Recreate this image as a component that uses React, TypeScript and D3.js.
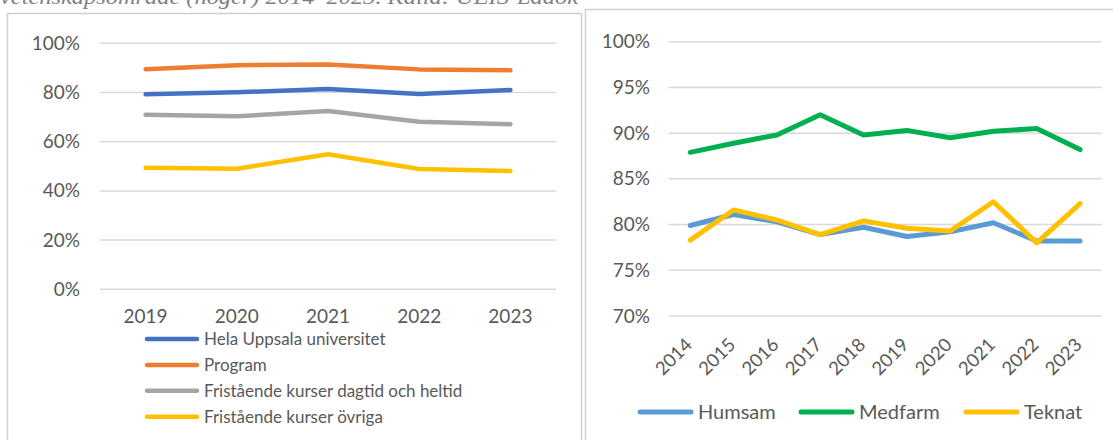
import * as d3 from "d3"

// vänster diagram: hela UU och utbildningstyp
const yearsLeft = ["2019", "2020", "2021", "2022", "2023"]
const helaUU = [0.793, 0.801, 0.814, 0.794, 0.81]
const program = [0.895, 0.911, 0.914, 0.894, 0.89]
const dagtid = [0.71, 0.703, 0.725, 0.681, 0.671]
const ovriga = [0.494, 0.49, 0.549, 0.489, 0.481]
const leftTicks = [0, 0.2, 0.4, 0.6, 0.8, 1.0]

// höger diagram: vetenskapsområden
const yearsRight = ["2014", "2015", "2016", "2017", "2018", "2019", "2020", "2021", "2022", "2023"]
const humsam = [0.799, 0.811, 0.803, 0.789, 0.797, 0.787, 0.792, 0.802, 0.782, 0.782]
const medfarm = [0.879, 0.889, 0.898, 0.92, 0.898, 0.903, 0.895, 0.902, 0.905, 0.882]
const teknat = [0.783, 0.816, 0.805, 0.789, 0.804, 0.796, 0.793, 0.825, 0.78, 0.823]
const rightTicks = [0.7, 0.75, 0.8, 0.85, 0.9, 0.95, 1.0]

const leftSeries = [
  { name: "Hela Uppsala universitet", values: helaUU, color: "#4472C4" },
  { name: "Program", values: program, color: "#ED7D31" },
  { name: "Fristående kurser dagtid och heltid", values: dagtid, color: "#A5A5A5" },
  { name: "Fristående kurser övriga", values: ovriga, color: "#FFC000" },
]

const rightSeries = [
  { name: "Humsam", values: humsam, color: "#5B9BD5" },
  { name: "Medfarm", values: medfarm, color: "#00B050" },
  { name: "Teknat", values: teknat, color: "#FFC000" },
]

const FONT = "Lato, 'Open Sans', sans-serif"
const TXT = "#595959"
const GRID = "#d9d9d9"

function LeftChart() {
  const x = d3.scaleBand<string>().domain(yearsLeft).range([100, 556])
  const y = d3.scaleLinear().domain([0, 1]).range([289.3, 43.3])
  const fmt = d3.format(".0%")
  const line = d3
    .line<number>()
    .x((_, i) => (x(yearsLeft[i]) ?? 0) + x.bandwidth() / 2)
    .y((d) => y(d))

  return (
    <g>
      <rect x={7.5} y={13.5} width={574} height={440} fill="#fff" stroke="#d0d0d0" strokeWidth={1.5} />
      {leftTicks.map((t) => (
        <g key={t}>
          <line x1={100} x2={556} y1={y(t)} y2={y(t)} stroke={GRID} strokeWidth={1.5} />
          <text x={80} y={y(t) + 6.5} textAnchor="end" fontSize={19} fill={TXT} fontFamily={FONT}>
            {fmt(t)}
          </text>
        </g>
      ))}
      {yearsLeft.map((yr) => (
        <text key={yr} x={(x(yr) ?? 0) + x.bandwidth() / 2} y={323} textAnchor="middle" fontSize={19} fill={TXT} fontFamily={FONT}>
          {yr}
        </text>
      ))}
      {leftSeries.map((s) => (
        <path key={s.name} d={line(s.values) ?? ""} fill="none" stroke={s.color} strokeWidth={4.5} strokeLinecap="round" strokeLinejoin="round" />
      ))}
      {leftSeries.map((s, i) => (
        <g key={s.name} transform={`translate(0,${339 + i * 25.9})`}>
          <line x1={147} x2={197} y1={0} y2={0} stroke={s.color} strokeWidth={4.5} strokeLinecap="round" />
          <text x={204} y={6} fontSize={17} fill={TXT} fontFamily={FONT}>
            {s.name}
          </text>
        </g>
      ))}
    </g>
  )
}

function RightChart() {
  const x = d3.scaleBand<string>().domain(yearsRight).range([668.6, 1101.7])
  const y = d3.scaleLinear().domain([0.7, 1.0]).range([316, 41.7])
  const fmt = d3.format(".0%")
  const line = d3
    .line<number>()
    .x((_, i) => (x(yearsRight[i]) ?? 0) + x.bandwidth() / 2)
    .y((d) => y(d))
  const legendX = [638, 799, 964]

  return (
    <g>
      <rect x={585.5} y={9.5} width={540} height={440} fill="#fff" stroke="#d0d0d0" strokeWidth={1.5} />
      {rightTicks.map((t) => (
        <g key={t}>
          <line x1={668.6} x2={1101.7} y1={y(t)} y2={y(t)} stroke={GRID} strokeWidth={1.5} />
          <text x={650} y={y(t) + 6.5} textAnchor="end" fontSize={19} fill={TXT} fontFamily={FONT}>
            {fmt(t)}
          </text>
        </g>
      ))}
      {yearsRight.map((yr) => {
        const cx = (x(yr) ?? 0) + x.bandwidth() / 2
        return (
          <text key={yr} transform={`translate(${cx + 3},${346}) rotate(-45)`} textAnchor="end" fontSize={18.5} fill={TXT} fontFamily={FONT}>
            {yr}
          </text>
        )
      })}
      {rightSeries.map((s) => (
        <path key={s.name} d={line(s.values) ?? ""} fill="none" stroke={s.color} strokeWidth={5} strokeLinecap="round" strokeLinejoin="round" />
      ))}
      {rightSeries.map((s, i) => (
        <g key={s.name} transform={`translate(${legendX[i]},412)`}>
          <line x1={2} x2={53} y1={0} y2={0} stroke={s.color} strokeWidth={5} strokeLinecap="round" />
          <text x={60} y={7} fontSize={20} fill={TXT} fontFamily={FONT}>
            {s.name}
          </text>
        </g>
      ))}
    </g>
  )
}

export default function App() {
  return (
    <svg width={1113} height={440} style={{ position: "absolute", left: 0, top: 0, background: "#fff" }}>
      <text x={0} y={4} fontSize={21} fontStyle="italic" fill="#808080" fontFamily="'Liberation Serif', serif" textLength={578} lengthAdjust="spacingAndGlyphs">
        vetenskapsområde (höger) 2014–2023. Källa: UEIS-Ladok
      </text>
      <LeftChart />
      <RightChart />
    </svg>
  )
}
